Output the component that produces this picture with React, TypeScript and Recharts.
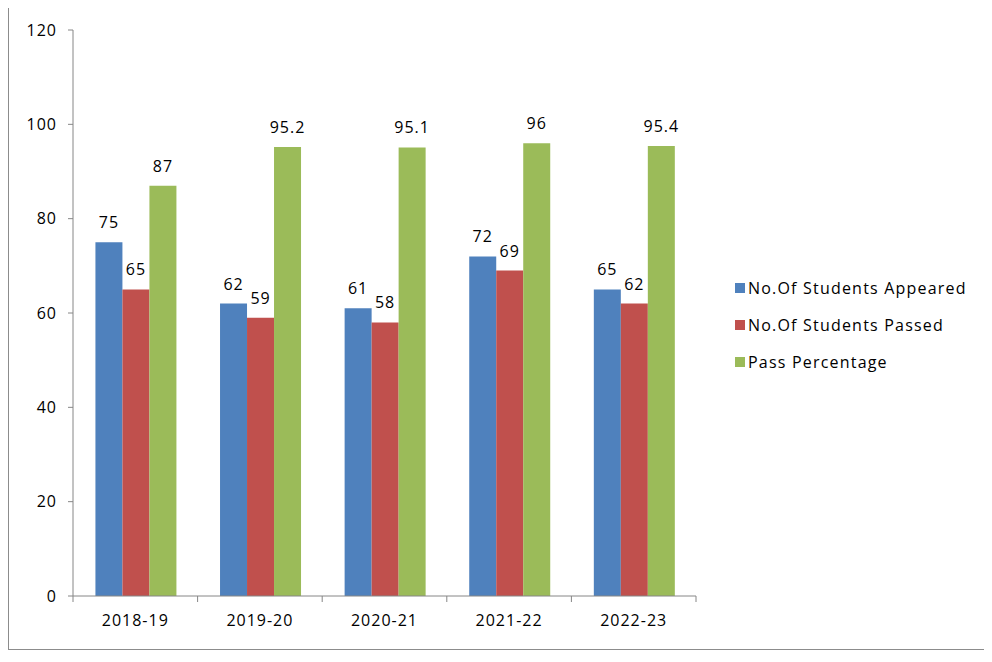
import React from 'react';
import { BarChart, Bar, XAxis, YAxis, LabelList } from 'recharts';

// ---------------------------------------------------------------------------
// Data
// ---------------------------------------------------------------------------

const YEARS = ['2018-19', '2019-20', '2020-21', '2021-22', '2022-23'];
const APPEARED = [75, 62, 61, 72, 65];
const PASSED = [65, 59, 58, 69, 62];
const PASS_PCT = [87, 95.2, 95.1, 96, 95.4];
const Y_TICKS = [0, 20, 40, 60, 80, 100, 120];

const SERIES = [
  { key: 'appeared', name: 'No.Of Students Appeared', color: '#4F81BD' },
  { key: 'passed', name: 'No.Of Students Passed', color: '#C0504D' },
  { key: 'pct', name: 'Pass Percentage', color: '#9BBB59' },
];

const data = YEARS.map((year, i) => ({
  year,
  appeared: APPEARED[i],
  passed: PASSED[i],
  pct: PASS_PCT[i],
}));

// ---------------------------------------------------------------------------
// Layout
// ---------------------------------------------------------------------------

const FONT = '"Open Sans", sans-serif';
const FONT_SIZE = 16;
const AXIS_COLOR = '#868686';
const CHART_W = 978;
const CHART_H = 642;
const PLOT_LEFT = 64;
const PLOT_RIGHT_MARGIN = 291;
const BAND = (CHART_W - PLOT_LEFT - PLOT_RIGHT_MARGIN) / YEARS.length;

// Excel-style category axis: tick marks sit between categories
const CategoryTick = (props: any) => {
  const { x, y, payload, index } = props;
  const isLast = index === YEARS.length - 1;
  return (
    <g>
      <line x1={x - BAND / 2} y1={y - 8} x2={x - BAND / 2} y2={y - 2} stroke={AXIS_COLOR} />
      {isLast && (
        <line x1={x + BAND / 2} y1={y - 8} x2={x + BAND / 2} y2={y - 2} stroke={AXIS_COLOR} />
      )}
      <text
        x={x}
        y={y + 22}
        textAnchor="middle"
        fill="#000"
        fontSize={FONT_SIZE}
        fontFamily={FONT}
        letterSpacing={1}
      >
        {payload.value}
      </text>
    </g>
  );
};

const ChartLegend = () => (
  <div
    style={{
      position: 'absolute',
      left: 726,
      top: 262,
      fontFamily: FONT,
      fontSize: FONT_SIZE,
      letterSpacing: 1.2,
      color: '#000',
    }}
  >
    {SERIES.map((s) => (
      <div key={s.key} style={{ display: 'flex', alignItems: 'center', height: 37 }}>
        <span
          style={{ display: 'inline-block', width: 10, height: 10, background: s.color, marginRight: 3 }}
        />
        {s.name}
      </div>
    ))}
  </div>
);

// ---------------------------------------------------------------------------
// Component
// ---------------------------------------------------------------------------

const App: React.FC = () => {
  return (
    <div
      style={{
        position: 'relative',
        width: CHART_W,
        height: CHART_H,
        border: '1px solid #8c8c8c',
        marginTop: -2,
        background: '#fff',
      }}
    >
      <BarChart
        width={CHART_W}
        height={CHART_H}
        data={data}
        margin={{ top: 23, right: PLOT_RIGHT_MARGIN, left: 0, bottom: 0 }}
        barCategoryGap="18%"
        barGap={0}
      >
        <XAxis
          dataKey="year"
          height={53}
          axisLine={{ stroke: AXIS_COLOR }}
          tickLine={false}
          tick={<CategoryTick />}
          interval={0}
        />
        <YAxis
          width={PLOT_LEFT}
          domain={[0, 120]}
          ticks={Y_TICKS}
          interval={0}
          axisLine={{ stroke: AXIS_COLOR }}
          tickLine={{ stroke: AXIS_COLOR }}
          tickSize={5}
          tickMargin={11}
          tick={{ fill: '#000', fontSize: FONT_SIZE, fontFamily: FONT, letterSpacing: 1 }}
        />
        {SERIES.map((s) => (
          <Bar key={s.key} dataKey={s.key} name={s.name} fill={s.color} isAnimationActive={false}>
            <LabelList
              dataKey={s.key}
              position="top"
              offset={14}
              fill="#000"
              fontSize={FONT_SIZE}
              fontFamily={FONT}
              letterSpacing={1}
            />
          </Bar>
        ))}
      </BarChart>
      <ChartLegend />
    </div>
  );
};

export default App;
